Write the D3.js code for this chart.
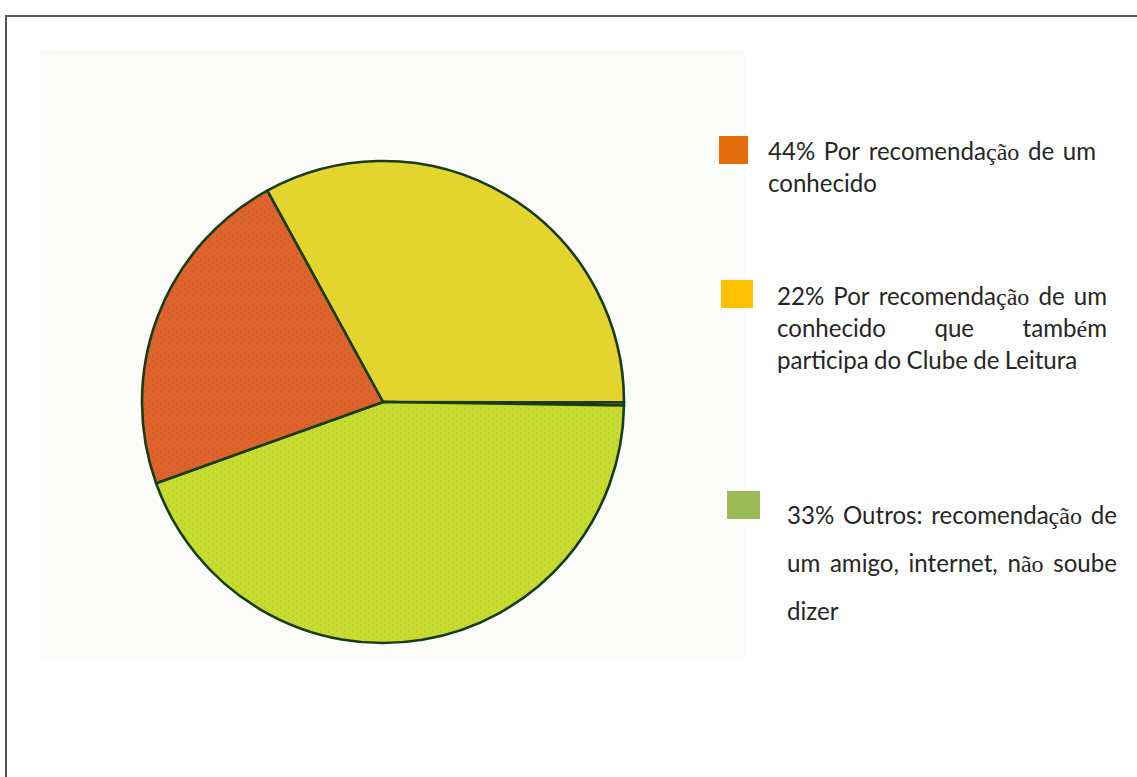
<!DOCTYPE html>
<html lang="pt">
<head>
<meta charset="UTF-8">
<title>Como conheceu o Clube de Leitura</title>
<script src="https://d3js.org/d3.v7.min.js"></script>
<style>
  html, body { margin: 0; padding: 0; background: #fff; }
  svg { display: block; }
  .legend text { fill: #262626; font-family: Lato, 'Open Sans', sans-serif; }
  .legend tspan.serif { font-family: 'Liberation Serif', 'DejaVu Serif', serif; }
</style>
</head>
<body>
<svg width="1137" height="777"></svg>
<script>
  // pie slices, clockwise starting from the yellow one (share in %)
  const sliceNames = ["amigo do clube", "sliver", "outros", "conhecido"];
  const sliceValues = [33.0, 0.2, 44.3, 22.5];
  const sliceColors = ["#e3d52d", "#d9c92b", "#c4dd2e", "#df642b"];
  const dotColors = ["none", "none", "#d9a24a", "#b8502a"];

  // legend entries (text kept as printed, lines as broken in the original)
  const legendColors = ["#e36c0a", "#ffc000", "#9bbb59"];
  const legendLines = [
    ["44% Por recomendação de um", "conhecido"],
    ["22% Por recomendação de um", "conhecido que também", "participa do Clube de Leitura"],
    ["33% Outros: recomendação de", "um amigo, internet, não soube", "dizer"]
  ];

  const svg = d3.select("svg");

  // outer frame (runs off the right / bottom edge)
  svg.append("rect")
    .attr("x", 6).attr("y", 16)
    .attr("width", 1200).attr("height", 900)
    .attr("fill", "none")
    .attr("stroke", "#555")
    .attr("stroke-width", 2);

  // light plot background
  svg.append("rect")
    .attr("x", 40).attr("y", 50)
    .attr("width", 705).attr("height", 610)
    .attr("fill", "#fbfcfa");

  // dotted textures like the original gif
  const defs = svg.append("defs");
  sliceColors.forEach((c, i) => {
    const p = defs.append("pattern")
      .attr("id", "pat" + i)
      .attr("patternUnits", "userSpaceOnUse")
      .attr("width", 8).attr("height", 6);
    p.append("rect").attr("width", 8).attr("height", 6).attr("fill", c);
    if (dotColors[i] !== "none") {
      p.append("circle").attr("cx", 2).attr("cy", 1.5).attr("r", 0.9)
        .attr("fill", dotColors[i]).attr("opacity", 0.55);
      p.append("circle").attr("cx", 6).attr("cy", 4.5).attr("r", 0.9)
        .attr("fill", dotColors[i]).attr("opacity", 0.45);
    }
  });

  const cx = 383, cy = 402, r = 241;
  const startDeg = -28.7;

  const pie = d3.pie().sort(null)
    .startAngle(startDeg * Math.PI / 180)
    .endAngle((startDeg + 360) * Math.PI / 180);
  const arc = d3.arc().innerRadius(0).outerRadius(r);

  const g = svg.append("g").attr("transform", `translate(${cx},${cy})`);
  g.selectAll("path")
    .data(pie(sliceValues))
    .join("path")
    .attr("d", arc)
    .attr("fill", (d, i) => `url(#pat${i})`)
    .attr("stroke", "#163d18")
    .attr("stroke-width", 2.6)
    .attr("stroke-linejoin", "round");

  // legend
  const legendPos = [
    { sx: 719, sy: 136, sw: 29, sh: 28, tx: 768, base: 160, lh: 32, w: 328 },
    { sx: 721, sy: 280, sw: 32, sh: 28, tx: 777, base: 305, lh: 32, w: 330 },
    { sx: 727, sy: 491, sw: 33, sh: 28, tx: 787, base: 524, lh: 48, w: 330 }
  ];

  const leg = svg.append("g").attr("class", "legend");

  // calibrate font size against a measured line of the original
  const probe = leg.append("text").attr("font-size", 20).text("participa do Clube de Leitura");
  const fontSize = 20 * 304 / probe.node().getComputedTextLength();
  probe.remove();

  // write a word, setting "ção", "ã", "é" in a serif face as in the picture
  function writeWord(sel, word) {
    const parts = word.split(/(ção|ão|é)/).filter(s => s.length);
    parts.forEach(s => {
      const t = sel.append("tspan").text(s);
      if (/^(ção|ão|é)$/.test(s)) t.attr("class", "serif");
    });
  }

  legendLines.forEach((lines, k) => {
    const p = legendPos[k];
    leg.append("rect")
      .attr("x", p.sx).attr("y", p.sy)
      .attr("width", p.sw).attr("height", p.sh)
      .attr("fill", legendColors[k]);

    lines.forEach((line, li) => {
      const y = p.base + li * p.lh;
      const words = line.split(" ");
      const nodes = words.map(w => {
        const t = leg.append("text").attr("font-size", fontSize).attr("y", y);
        writeWord(t, w);
        return t;
      });
      const widths = nodes.map(n => n.node().getComputedTextLength());
      const space = fontSize * 0.22;
      const last = li === lines.length - 1;
      const total = d3.sum(widths);
      const gap = (!last && words.length > 1) ? (p.w - total) / (words.length - 1) : space;
      let x = p.tx;
      nodes.forEach((n, j) => {
        n.attr("x", x);
        x += widths[j] + gap;
      });
    });
  });
</script>
</body>
</html>
